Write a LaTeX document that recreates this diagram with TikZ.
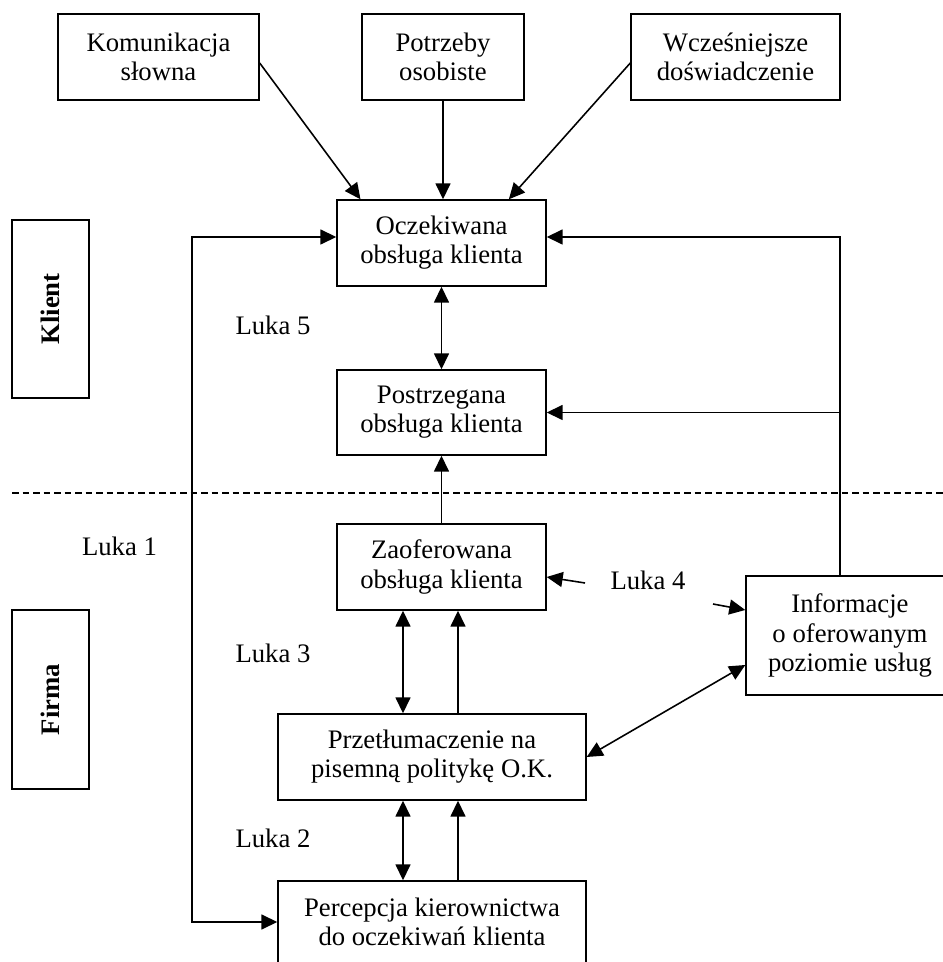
\documentclass[tikz,border=0pt]{standalone}
\usepackage{fontspec}
\setmainfont{Liberation Serif}
\usetikzlibrary{arrows.meta,calc}

\begin{document}
\begin{tikzpicture}[
            box/.style={draw, line width=0.8pt, align=center, inner sep=0pt,
                        font=\fontsize{15.2}{16.6}\selectfont},
            side/.style={box, font=\fontsize{15.2}{16.6}\selectfont\bfseries, rotate=90},
            luka/.style={font=\fontsize{15.2}{16.6}\selectfont},
            arr/.style={-{Triangle[length=3.2mm,width=3mm]}, line width=0.9pt},
            darr/.style={{Triangle[length=3.2mm,width=3mm]}-{Triangle[length=3.2mm,width=3mm]}, line width=0.9pt}
        ]
            \clip (0,0) rectangle (18.86,19.24);

            \node[box, minimum width=4.02cm, minimum height=1.72cm] (kom) at (3.17,18.10) {Komunikacja\\słowna};
            \node[box, minimum width=3.24cm, minimum height=1.72cm] (potr) at (8.86,18.10) {Potrzeby\\osobiste};
            \node[box, minimum width=4.18cm, minimum height=1.72cm] (wcz) at (14.71,18.10) {Wcześniejsze\\doświadczenie};

            \node[box, minimum width=4.18cm, minimum height=1.72cm] (ocz) at (8.83,14.38) {Oczekiwana\\obsługa klienta};
            \node[box, minimum width=4.18cm, minimum height=1.70cm] (postr) at (8.83,10.99) {Postrzegana\\obsługa klienta};
            \node[box, minimum width=4.18cm, minimum height=1.72cm] (zaof) at (8.83,7.90) {Zaoferowana\\obsługa klienta};
            \node[box, minimum width=4.16cm, minimum height=2.38cm] (info) at (17.00,6.53) {Informacje\\o oferowanym\\poziomie usług};
            \node[box, minimum width=6.16cm, minimum height=1.72cm] (przet) at (8.64,4.10) {Przetłumaczenie na\\pisemną politykę O.K.};
            \node[box, minimum width=6.16cm, minimum height=1.64cm] (perc) at (8.64,0.80) {Percepcja kierownictwa\\do oczekiwań klienta};

            \node[side, minimum width=3.56cm, minimum height=1.54cm] (klient) at (1.01,13.06) {Klient};
            \node[side, minimum width=3.58cm, minimum height=1.54cm] (firma) at (1.01,5.25) {Firma};

            \node[luka] (l5) at (5.46,12.74) {Luka 5};
            \node[luka] (l1) at (2.39,8.32) {Luka 1};
            \node[luka] (l4) at (12.96,7.64) {Luka 4};
            \node[luka] (l3) at (5.46,6.18) {Luka 3};
            \node[luka] (l2) at (5.46,2.48) {Luka 2};

            \coordinate (lx) at (3.84,0);
            \coordinate (rx) at (16.80,0);
            \coordinate (cx1) at (8.06,0);
            \coordinate (cx2) at (9.16,0);
            \coordinate (g4a) at (11.70,7.58);
            \coordinate (g4b) at (14.26,7.16);
            \coordinate (dl) at (0.24,9.38);
            \coordinate (dr) at (18.86,9.38);

            \draw[dashed, dash pattern=on 0.13cm off 0.08cm, line width=0.8pt] (dl) -- (dr);

            \draw[arr] ($(kom.east)+(0,-0.12)$) -- ($(ocz.north west)!0.115!(ocz.north east)$);
            \draw[arr] (potr.south) -- (potr.south |- ocz.north);
            \draw[arr] ($(wcz.west)+(0,-0.12)$) -- ($(ocz.north west)!0.82!(ocz.north east)$);
            \draw[darr] (ocz.south) -- (postr.north);
            \draw[arr] (zaof.north) -- (postr.south);

            \draw[arr] (info.north -| rx) |- ($(ocz.east)+(0,0.12)$);
            \draw[arr] (postr.east -| rx) -- (postr.east);
            \draw[darr] ($(ocz.west)+(0,0.12)$) -| (perc.west -| lx) -- (perc.west);

            \draw[darr] (zaof.south -| cx1) -- (przet.north -| cx1);
            \draw[arr] (przet.north -| cx2) -- (zaof.south -| cx2);
            \draw[darr] (przet.south -| cx1) -- (perc.north -| cx1);
            \draw[arr] (perc.north -| cx2) -- (przet.south -| cx2);
            \draw[darr] ($(info.west)+(0,-0.59)$) -- (przet.east);

            \draw[arr] (g4a) -- ($(zaof.east)+(0,-0.2)$);
            \draw[arr] (g4b) -- ($(info.west)+(0,0.51)$);
        \end{tikzpicture}
\end{document}
